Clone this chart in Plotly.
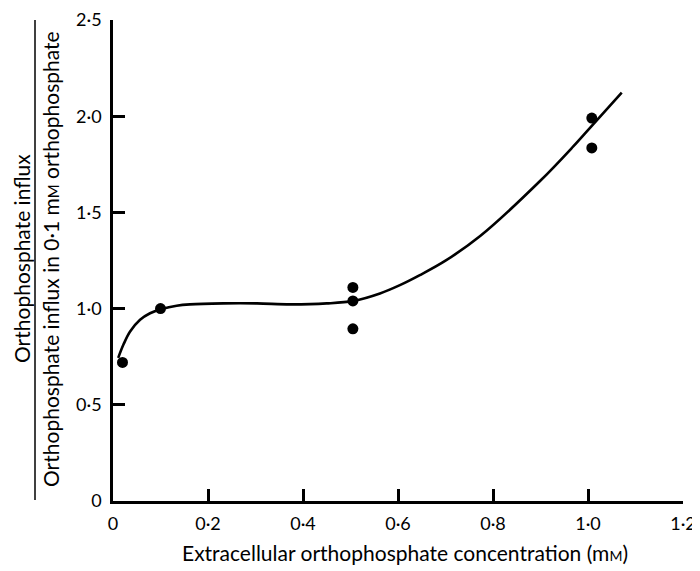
import plotly.graph_objects as go

# Measured data points
pts_x = [0.02, 0.1, 0.505, 0.505, 0.505, 1.008, 1.008]
pts_y = [0.72, 1.0, 1.11, 1.04, 0.895, 1.99, 1.835]

# Hand-drawn fitted curve
curve_x = [0.011, 0.022, 0.036, 0.057, 0.078, 0.1025, 0.134, 0.162, 0.232, 0.303,
           0.373, 0.45, 0.506, 0.562, 0.604, 0.646, 0.70, 0.773, 0.899,
           0.969, 1.008, 1.071]
curve_y = [0.744, 0.813, 0.881, 0.942, 0.976, 0.998, 1.015, 1.022, 1.027, 1.027,
           1.022, 1.027, 1.04, 1.079, 1.122, 1.174, 1.249, 1.377, 1.663,
           1.843, 1.950, 2.122]

x_ticks = [0, 0.2, 0.4, 0.6, 0.8, 1.0, 1.2]
x_labels = ["0", "0·2", "0·4", "0·6", "0·8", "1·0", "1·2"]
y_ticks = [0, 0.5, 1.0, 1.5, 2.0, 2.5]
y_labels = ["0", "0·5", "1·0", "1·5", "2·0", "2·5"]

FONT = "Lato, Open Sans, DejaVu Sans, sans-serif"
# The page body has an 8px margin, so the figure is 8px smaller each way
W, H = 692, 563
L, R, T, B = 105, 17, 12, 70
# plot area in page pixels: x 113..683, y 20..501

def px_x(p):
    return (p - 113) / 570

def px_y(p):
    return (501 - p) / 481

fig = go.Figure()
fig.add_trace(go.Scatter(x=curve_x, y=curve_y, mode="lines",
                         line=dict(color="black", width=2.6, shape="spline", smoothing=1.0),
                         hoverinfo="skip", showlegend=False))
fig.add_trace(go.Scatter(x=pts_x, y=pts_y, mode="markers",
                         marker=dict(color="black", size=11),
                         showlegend=False, cliponaxis=False))

axis_common = dict(ticks="inside", ticklen=12, tickwidth=2.5, tickcolor="black",
                   showline=True, linewidth=2.5, linecolor="black",
                   showgrid=False, zeroline=False, ticklabelstandoff=5,
                   ticklabeloverflow="allow",
                   automargin=False, tickfont=dict(size=18))

fig.update_layout(
    width=W, height=H,
    margin=dict(l=L, r=R, t=T, b=B, autoexpand=False),
    paper_bgcolor="white", plot_bgcolor="white",
    font=dict(family=FONT, size=18, color="black"),
    xaxis=dict(range=[0, 1.2], tickvals=x_ticks, ticktext=x_labels, **axis_common),
    yaxis=dict(range=[0, 2.5], tickvals=y_ticks, ticktext=y_labels, **axis_common),
)

# x axis title
fig.add_annotation(xref="paper", yref="paper", x=px_x(405), y=px_y(552),
                   text="Extracellular orthophosphate concentration (m<span style='font-size:14px'>M</span>)",
                   showarrow=False, font=dict(size=21), xanchor="center", yanchor="middle")

# y axis title as a fraction
fig.add_annotation(xref="paper", yref="paper", x=px_x(21), y=px_y(259),
                   text="Orthophosphate influx", textangle=-90,
                   showarrow=False, font=dict(size=21), xanchor="center", yanchor="middle")
fig.add_annotation(xref="paper", yref="paper", x=px_x(50), y=px_y(259),
                   text="Orthophosphate influx in 0·1 m<span style='font-size:15px'>M</span> orthophosphate",
                   textangle=-90, showarrow=False, font=dict(size=21),
                   xanchor="center", yanchor="middle")
fig.add_shape(type="line", xref="paper", yref="paper",
              x0=px_x(35), x1=px_x(35), y0=px_y(20), y1=px_y(500),
              line=dict(color="black", width=1.5))

fig.write_html("out.html")
